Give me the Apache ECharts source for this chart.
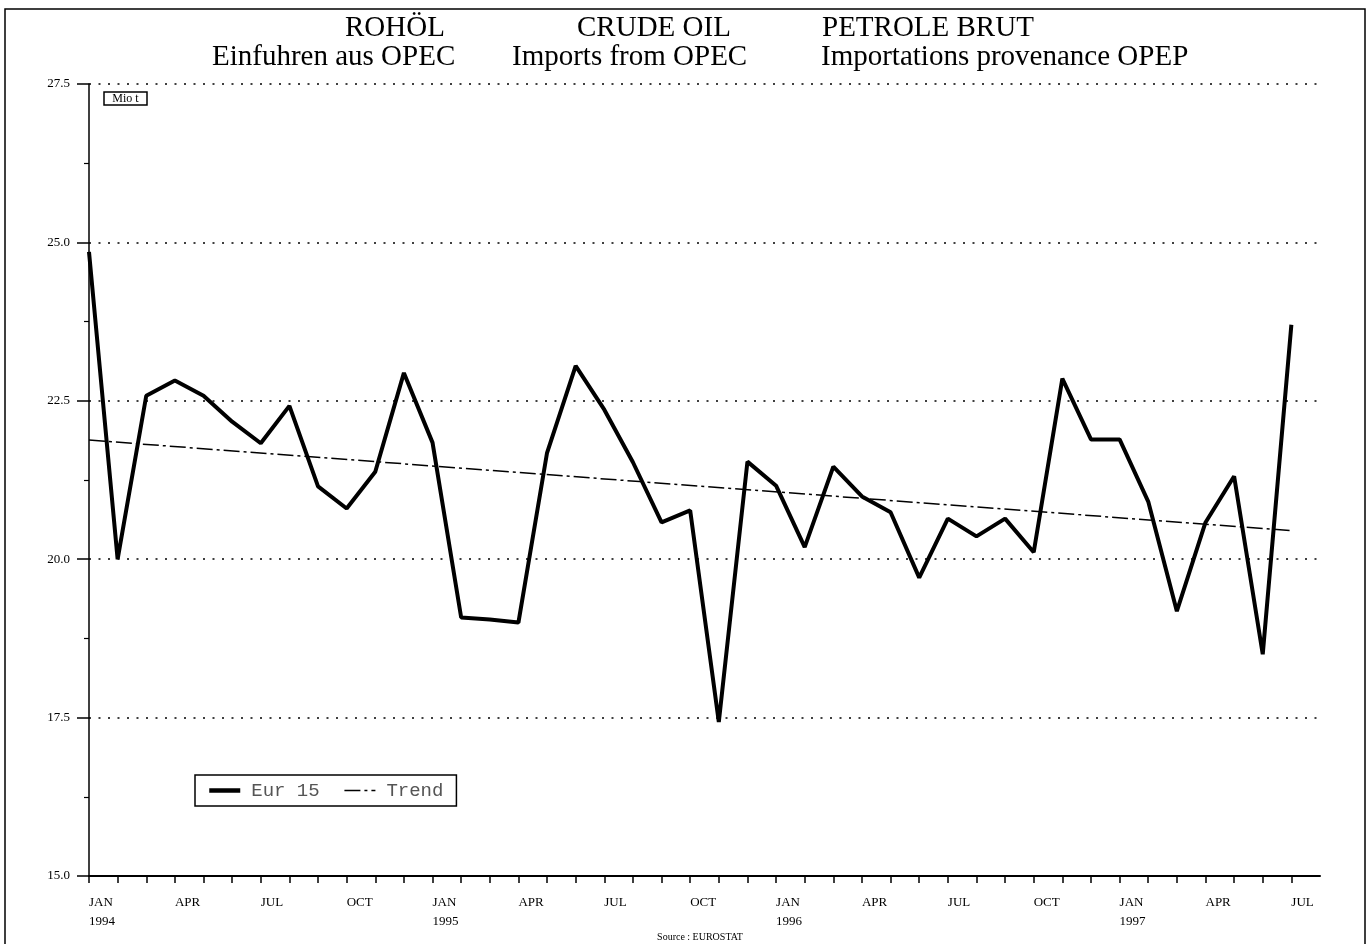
<!DOCTYPE html>
<html>
<head>
<meta charset="utf-8">
<script src="https://cdn.jsdelivr.net/npm/echarts@6/dist/echarts.min.js"></script>
<style>
  html, body { margin: 0; padding: 0; background: #fff; }
  #charts { width: 1370px; height: 944px; }
</style>
</head>
<body>
<div id="charts"></div>
<script>
// months Jan 1994 .. Jul 1997, plus one empty slot where the axis runs on
var months = [
  'JAN\n1994', 'FEB', 'MAR', 'APR', 'MAY', 'JUN', 'JUL', 'AUG', 'SEP', 'OCT', 'NOV', 'DEC',
  'JAN\n1995', 'FEB', 'MAR', 'APR', 'MAY', 'JUN', 'JUL', 'AUG', 'SEP', 'OCT', 'NOV', 'DEC',
  'JAN\n1996', 'FEB', 'MAR', 'APR', 'MAY', 'JUN', 'JUL', 'AUG', 'SEP', 'OCT', 'NOV', 'DEC',
  'JAN\n1997', 'FEB', 'MAR', 'APR', 'MAY', 'JUN', 'JUL', ''
];

// Mio t
var eur15 = [
  24.85, 20.0, 22.58, 22.82, 22.58, 22.17, 21.83, 22.42, 21.15, 20.80, 21.38, 22.94,
  21.84, 19.08, 19.05, 19.0, 21.68, 23.05, 22.36, 21.53, 20.58, 20.77, 17.43, 21.54,
  21.16, 20.19, 21.46, 20.99, 20.74, 19.71, 20.64, 20.36, 20.64, 20.11, 22.85, 21.89,
  21.89, 20.91, 19.18, 20.58, 21.31, 18.5, 23.70
];

// trend line end points [month index, value]
var trend = [[0, 21.88], [42, 20.45]];

var titles = [
  { text: 'ROHÖL', left: 345, top: 14 },
  { text: 'CRUDE OIL', left: 577, top: 14 },
  { text: 'PETROLE BRUT', left: 822, top: 14 },
  { text: 'Einfuhren aus OPEC', left: 212, top: 43 },
  { text: 'Imports from OPEC', left: 512, top: 43 },
  { text: 'Importations provenance OPEP', left: 821, top: 43 }
];

var serif = '"Liberation Serif", "DejaVu Serif", serif';
var lastIdx = eur15.length - 1;

var myChart = echarts.init(document.getElementById('charts'));

var option = {
    backgroundColor: '#fff',
    animation: false,
    title: titles.map(function (t) {
        return {
            text: t.text, left: t.left, top: t.top, padding: 0,
            textStyle: { fontFamily: serif, fontSize: 29, fontWeight: 'normal', color: '#000' }
        };
    }),
    legend: {
        data: [
            { name: 'Eur 15', itemStyle: { opacity: 0 }, lineStyle: { width: 4.5, color: '#000' } },
            { name: 'Trend', itemStyle: { opacity: 0 }, lineStyle: { width: 1.5, color: '#000', type: [16, 4, 3, 4] } }
        ],
        left: 195,
        top: 775,
        padding: [6, 13, 6, 12],
        itemGap: 24,
        itemWidth: 31,
        itemHeight: 12,
        borderColor: '#000',
        borderWidth: 1.5,
        backgroundColor: '#fff',
        textStyle: { fontFamily: '"Liberation Mono", monospace', fontSize: 19, color: '#555', padding: [0, 0, 0, 6] }
    },
    grid: { left: 89, right: 50, top: 84, bottom: 68 },
    xAxis: {
        type: 'category',
        data: months,
        boundaryGap: false,
        axisLine: { lineStyle: { color: '#000', width: 2 } },
        axisTick: {
            length: 7,
            interval: function (idx) { return idx <= lastIdx; },
            lineStyle: { color: '#000', width: 1.5 }
        },
        axisLabel: {
            interval: function (idx) { return idx % 3 === 0 && idx <= lastIdx; },
            align: 'left',
            margin: 17,
            fontFamily: serif,
            fontSize: 13,
            lineHeight: 19,
            color: '#000'
        },
        splitLine: { show: false }
    },
    yAxis: {
        type: 'value',
        min: 15,
        max: 27.5,
        interval: 2.5,
        axisLine: { show: true, lineStyle: { color: '#000', width: 1.5 } },
        axisTick: { show: true, length: 12, lineStyle: { color: '#000', width: 1.5 } },
        minorTick: { show: true, splitNumber: 2, length: 5, lineStyle: { color: '#000', width: 1.2 } },
        axisLabel: {
            margin: 19,
            fontFamily: serif,
            fontSize: 13,
            color: '#000',
            formatter: function (v) { return v.toFixed(1); }
        },
        splitLine: { show: true, lineStyle: { color: '#000', width: 1.6, type: [2, 7.5] } }
    },
    graphic: [
        {
            type: 'rect', silent: true, z: 100,
            shape: { x: 5, y: 9, width: 1360, height: 960 },
            style: { fill: null, stroke: '#000', lineWidth: 1.5 }
        },
        {
            type: 'rect', silent: true,
            shape: { x: 104, y: 92, width: 43, height: 13 },
            style: { fill: '#fff', stroke: '#000', lineWidth: 1.5 }
        },
        {
            type: 'text', silent: true, x: 125.5, y: 98.5,
            style: { text: 'Mio t', fontFamily: serif, fontSize: 12, fill: '#000', align: 'center', verticalAlign: 'middle' }
        },
        {
            type: 'text', silent: true, x: 700, y: 937,
            style: { text: 'Source : EUROSTAT', fontFamily: serif, fontSize: 10, fill: '#000', align: 'center', verticalAlign: 'middle' }
        }
    ],
    series: [
        {
            name: 'Eur 15',
            type: 'line',
            data: eur15,
            symbol: 'none',
            z: 3,
            lineStyle: { color: '#000', width: 4 },
            itemStyle: { color: '#000' }
        },
        {
            name: 'Trend',
            type: 'line',
            data: trend,
            symbol: 'none',
            z: 2,
            lineStyle: { color: '#000', width: 1.5, type: [16, 4, 3, 4] },
            itemStyle: { color: '#000' }
        }
    ]
};

myChart.setOption(option);
window.addEventListener('resize', function () {
    myChart.resize();
});
</script>
</body>
</html>
